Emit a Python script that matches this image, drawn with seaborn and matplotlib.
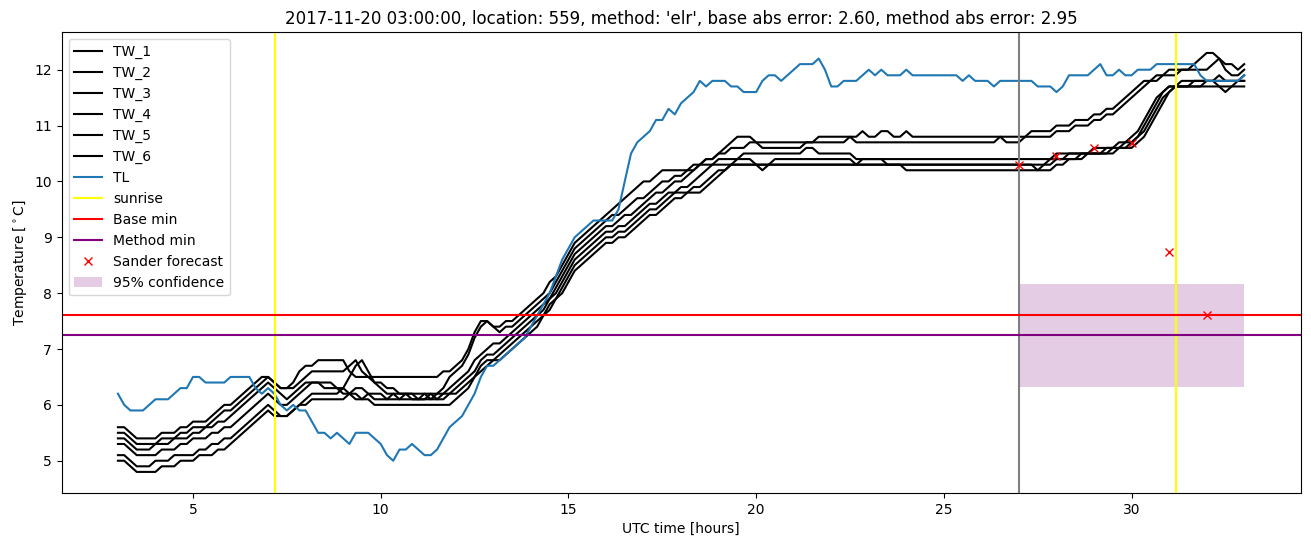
import numpy as np
import pandas as pd
import matplotlib
matplotlib.use("Agg")
import matplotlib.pyplot as plt
import seaborn as sns

# sampling grid: 10-minute steps from 03:00 to 33:00 (UTC hours)
hours = np.linspace(3, 33, 181)

tw_1 = [5.6, 5.6, 5.5, 5.4, 5.4, 5.4,
        5.4, 5.5, 5.5, 5.5, 5.6, 5.6,
        5.7, 5.7, 5.7, 5.8, 5.9, 6.0,
        6.0, 6.1, 6.2, 6.3, 6.4, 6.5,
        6.5, 6.4, 6.3, 6.3, 6.4, 6.6,
        6.7, 6.7, 6.8, 6.8, 6.8, 6.8,
        6.8, 6.6, 6.5, 6.5, 6.5, 6.5,
        6.5, 6.5, 6.5, 6.5, 6.5, 6.5,
        6.5, 6.5, 6.5, 6.5, 6.6, 6.6,
        6.7, 6.8, 7.0, 7.3, 7.5, 7.5,
        7.4, 7.4, 7.5, 7.5, 7.6, 7.7,
        7.8, 7.9, 8.0, 8.2, 8.3, 8.5,
        8.7, 8.9, 9.0, 9.1, 9.2, 9.3,
        9.4, 9.5, 9.6, 9.7, 9.8, 9.9,
        10.0, 10.0, 10.1, 10.2, 10.2, 10.2,
        10.2, 10.2, 10.3, 10.3, 10.4, 10.4,
        10.5, 10.6, 10.7, 10.8, 10.8, 10.8,
        10.7, 10.6, 10.6, 10.6, 10.6, 10.6,
        10.6, 10.6, 10.7, 10.7, 10.8, 10.8,
        10.8, 10.8, 10.8, 10.8, 10.8, 10.9,
        10.8, 10.8, 10.9, 10.9, 10.8, 10.8,
        10.9, 10.8, 10.8, 10.8, 10.8, 10.8,
        10.8, 10.8, 10.8, 10.8, 10.8, 10.8,
        10.8, 10.8, 10.8, 10.8, 10.8, 10.8,
        10.8, 10.8, 10.9, 10.9, 10.9, 10.9,
        11.0, 11.0, 11.0, 11.1, 11.1, 11.1,
        11.2, 11.2, 11.3, 11.3, 11.4, 11.5,
        11.6, 11.7, 11.8, 11.8, 11.9, 11.9,
        12.0, 12.0, 12.0, 12.0, 12.1, 12.2,
        12.3, 12.3, 12.2, 12.1, 12.1, 12.0,
        12.1]

tw_2 = [5.5, 5.5, 5.4, 5.3, 5.3, 5.3,
        5.3, 5.4, 5.4, 5.4, 5.5, 5.5,
        5.6, 5.6, 5.6, 5.7, 5.8, 5.9,
        5.9, 6.0, 6.1, 6.2, 6.3, 6.4,
        6.5, 6.4, 6.3, 6.3, 6.3, 6.4,
        6.5, 6.6, 6.6, 6.6, 6.6, 6.6,
        6.6, 6.7, 6.8, 6.6, 6.5, 6.4,
        6.4, 6.3, 6.3, 6.2, 6.2, 6.2,
        6.2, 6.2, 6.2, 6.2, 6.3, 6.5,
        6.6, 6.7, 6.9, 7.2, 7.4, 7.5,
        7.4, 7.3, 7.4, 7.4, 7.5, 7.6,
        7.7, 7.8, 7.9, 8.0, 8.2, 8.4,
        8.6, 8.8, 8.9, 9.0, 9.1, 9.2,
        9.3, 9.4, 9.4, 9.5, 9.6, 9.7,
        9.7, 9.8, 9.9, 10.0, 10.0, 10.1,
        10.1, 10.2, 10.2, 10.3, 10.4, 10.4,
        10.5, 10.5, 10.6, 10.6, 10.6, 10.7,
        10.7, 10.7, 10.7, 10.7, 10.7, 10.7,
        10.7, 10.7, 10.7, 10.7, 10.7, 10.7,
        10.7, 10.7, 10.7, 10.8, 10.7, 10.7,
        10.7, 10.7, 10.7, 10.7, 10.7, 10.7,
        10.7, 10.7, 10.7, 10.7, 10.7, 10.7,
        10.7, 10.7, 10.7, 10.7, 10.7, 10.7,
        10.7, 10.7, 10.7, 10.8, 10.7, 10.7,
        10.7, 10.8, 10.8, 10.8, 10.8, 10.8,
        10.9, 10.9, 10.9, 11.0, 11.0, 11.0,
        11.1, 11.1, 11.2, 11.2, 11.3, 11.4,
        11.5, 11.6, 11.7, 11.8, 11.8, 11.9,
        11.9, 11.9, 12.0, 12.0, 12.0, 12.0,
        12.0, 12.1, 12.2, 12.0, 11.9, 11.9,
        12.0]

tw_3 = [5.4, 5.4, 5.3, 5.2, 5.2, 5.2,
        5.3, 5.3, 5.3, 5.4, 5.4, 5.4,
        5.5, 5.5, 5.6, 5.6, 5.7, 5.7,
        5.8, 5.9, 6.0, 6.1, 6.2, 6.3,
        6.4, 6.3, 6.2, 6.1, 6.2, 6.3,
        6.4, 6.4, 6.4, 6.4, 6.4, 6.3,
        6.3, 6.5, 6.7, 6.8, 6.6, 6.4,
        6.3, 6.2, 6.2, 6.2, 6.2, 6.2,
        6.1, 6.2, 6.1, 6.2, 6.2, 6.3,
        6.4, 6.5, 6.6, 6.8, 6.9, 7.0,
        7.1, 7.1, 7.2, 7.3, 7.4, 7.5,
        7.6, 7.7, 7.8, 7.9, 8.1, 8.3,
        8.5, 8.7, 8.8, 8.9, 9.0, 9.1,
        9.2, 9.2, 9.3, 9.4, 9.4, 9.5,
        9.6, 9.7, 9.8, 9.8, 9.9, 10.0,
        10.0, 10.1, 10.2, 10.3, 10.3, 10.3,
        10.4, 10.4, 10.4, 10.4, 10.5, 10.5,
        10.5, 10.5, 10.5, 10.5, 10.5, 10.5,
        10.5, 10.5, 10.6, 10.6, 10.5, 10.5,
        10.5, 10.5, 10.5, 10.5, 10.4, 10.4,
        10.4, 10.4, 10.4, 10.4, 10.4, 10.4,
        10.4, 10.4, 10.4, 10.4, 10.4, 10.4,
        10.4, 10.4, 10.4, 10.4, 10.4, 10.4,
        10.4, 10.4, 10.4, 10.4, 10.4, 10.4,
        10.4, 10.4, 10.4, 10.4, 10.4, 10.4,
        10.5, 10.5, 10.5, 10.5, 10.5, 10.5,
        10.6, 10.6, 10.6, 10.6, 10.7, 10.7,
        10.8, 10.9, 11.1, 11.3, 11.5, 11.6,
        11.7, 11.7, 11.8, 11.8, 11.8, 11.8,
        11.8, 11.8, 11.9, 11.8, 11.8, 11.8,
        11.9]

tw_4 = [5.3, 5.3, 5.2, 5.1, 5.1, 5.1,
        5.1, 5.2, 5.2, 5.2, 5.3, 5.3,
        5.4, 5.4, 5.4, 5.5, 5.5, 5.6,
        5.6, 5.7, 5.8, 5.9, 6.0, 6.1,
        6.2, 6.1, 6.0, 6.0, 6.1, 6.2,
        6.3, 6.4, 6.4, 6.3, 6.3, 6.3,
        6.2, 6.2, 6.3, 6.3, 6.2, 6.2,
        6.2, 6.1, 6.2, 6.1, 6.2, 6.1,
        6.1, 6.1, 6.2, 6.1, 6.2, 6.2,
        6.3, 6.4, 6.5, 6.6, 6.8, 6.9,
        6.9, 7.0, 7.1, 7.2, 7.3, 7.4,
        7.5, 7.6, 7.7, 7.9, 8.0, 8.2,
        8.4, 8.6, 8.7, 8.8, 8.9, 9.0,
        9.1, 9.1, 9.2, 9.2, 9.3, 9.4,
        9.5, 9.6, 9.6, 9.7, 9.8, 9.8,
        9.9, 9.9, 10.0, 10.1, 10.2, 10.3,
        10.3, 10.3, 10.3, 10.4, 10.4, 10.4,
        10.3, 10.3, 10.3, 10.4, 10.4, 10.4,
        10.4, 10.4, 10.4, 10.4, 10.4, 10.4,
        10.4, 10.4, 10.4, 10.4, 10.3, 10.4,
        10.4, 10.4, 10.4, 10.3, 10.3, 10.3,
        10.3, 10.3, 10.3, 10.3, 10.3, 10.3,
        10.3, 10.3, 10.3, 10.3, 10.3, 10.3,
        10.3, 10.3, 10.3, 10.3, 10.3, 10.3,
        10.3, 10.3, 10.3, 10.3, 10.3, 10.4,
        10.4, 10.4, 10.5, 10.5, 10.5, 10.5,
        10.5, 10.5, 10.6, 10.6, 10.6, 10.7,
        10.7, 10.8, 11.0, 11.2, 11.4, 11.6,
        11.7, 11.7, 11.7, 11.7, 11.7, 11.7,
        11.8, 11.8, 11.7, 11.6, 11.7, 11.8,
        11.8]

tw_5 = [5.1, 5.1, 5.0, 4.9, 4.9, 4.9,
        5.0, 5.0, 5.0, 5.1, 5.1, 5.1,
        5.1, 5.2, 5.2, 5.3, 5.3, 5.4,
        5.4, 5.5, 5.6, 5.7, 5.8, 5.9,
        6.0, 5.9, 5.8, 5.8, 5.9, 6.0,
        6.1, 6.2, 6.2, 6.2, 6.2, 6.2,
        6.3, 6.2, 6.2, 6.1, 6.2, 6.1,
        6.1, 6.1, 6.1, 6.1, 6.1, 6.1,
        6.1, 6.1, 6.1, 6.1, 6.1, 6.2,
        6.2, 6.3, 6.4, 6.5, 6.7, 6.8,
        6.8, 6.9, 7.0, 7.1, 7.2, 7.3,
        7.4, 7.5, 7.6, 7.8, 7.9, 8.1,
        8.3, 8.5, 8.6, 8.7, 8.8, 8.9,
        9.0, 9.0, 9.1, 9.1, 9.2, 9.3,
        9.4, 9.5, 9.5, 9.6, 9.7, 9.8,
        9.8, 9.8, 9.9, 9.9, 10.0, 10.1,
        10.2, 10.2, 10.3, 10.3, 10.3, 10.3,
        10.3, 10.2, 10.3, 10.3, 10.3, 10.3,
        10.3, 10.3, 10.3, 10.3, 10.3, 10.3,
        10.3, 10.3, 10.3, 10.3, 10.3, 10.3,
        10.3, 10.3, 10.3, 10.3, 10.3, 10.3,
        10.2, 10.2, 10.2, 10.2, 10.2, 10.2,
        10.2, 10.2, 10.2, 10.2, 10.2, 10.2,
        10.2, 10.2, 10.2, 10.2, 10.2, 10.2,
        10.2, 10.2, 10.2, 10.2, 10.3, 10.3,
        10.4, 10.4, 10.4, 10.4, 10.5, 10.5,
        10.5, 10.5, 10.5, 10.6, 10.6, 10.6,
        10.7, 10.8, 10.9, 11.1, 11.3, 11.5,
        11.6, 11.7, 11.7, 11.7, 11.7, 11.7,
        11.7, 11.7, 11.7, 11.7, 11.7, 11.7,
        11.7]

tw_6 = [5.0, 5.0, 4.9, 4.8, 4.8, 4.8,
        4.8, 4.9, 4.9, 4.9, 5.0, 5.0,
        5.0, 5.1, 5.1, 5.1, 5.2, 5.2,
        5.3, 5.4, 5.5, 5.6, 5.7, 5.8,
        5.9, 5.8, 5.8, 5.8, 5.9, 6.0,
        6.0, 6.1, 6.1, 6.1, 6.1, 6.1,
        6.1, 6.2, 6.1, 6.1, 6.1, 6.0,
        6.0, 6.0, 6.0, 6.0, 6.0, 6.0,
        6.0, 6.0, 6.0, 6.0, 6.0, 6.0,
        6.1, 6.2, 6.3, 6.5, 6.6, 6.7,
        6.8, 6.8, 6.9, 7.0, 7.1, 7.2,
        7.3, 7.4, 7.6, 7.7, 7.9, 8.0,
        8.2, 8.4, 8.5, 8.6, 8.7, 8.8,
        8.9, 8.9, 9.0, 9.0, 9.1, 9.2,
        9.3, 9.4, 9.4, 9.5, 9.6, 9.7,
        9.7, 9.8, 9.8, 9.8, 9.9, 10.0,
        10.1, 10.2, 10.3, 10.3, 10.3, 10.3,
        10.3, 10.3, 10.3, 10.3, 10.3, 10.3,
        10.3, 10.3, 10.3, 10.3, 10.3, 10.3,
        10.3, 10.3, 10.3, 10.3, 10.3, 10.3,
        10.3, 10.3, 10.3, 10.3, 10.3, 10.3,
        10.3, 10.3, 10.3, 10.3, 10.3, 10.3,
        10.3, 10.3, 10.3, 10.3, 10.3, 10.3,
        10.3, 10.3, 10.3, 10.3, 10.3, 10.3,
        10.3, 10.3, 10.3, 10.2, 10.2, 10.2,
        10.3, 10.3, 10.4, 10.4, 10.4, 10.5,
        10.5, 10.5, 10.5, 10.5, 10.6, 10.6,
        10.6, 10.7, 10.8, 11.0, 11.2, 11.4,
        11.6, 11.7, 11.7, 11.7, 11.8, 11.8,
        11.8, 11.8, 11.8, 11.8, 11.8, 11.8,
        11.8]

tl = [6.2, 6.0, 5.9, 5.9, 5.9, 6.0,
      6.1, 6.1, 6.1, 6.2, 6.3, 6.3,
      6.5, 6.5, 6.4, 6.4, 6.4, 6.4,
      6.5, 6.5, 6.5, 6.5, 6.3, 6.2,
      6.3, 6.2, 6.0, 5.9, 6.0, 5.9,
      5.9, 5.7, 5.5, 5.5, 5.4, 5.5,
      5.4, 5.3, 5.5, 5.5, 5.5, 5.4,
      5.3, 5.1, 5.0, 5.2, 5.2, 5.3,
      5.2, 5.1, 5.1, 5.2, 5.4, 5.6,
      5.7, 5.8, 6.0, 6.2, 6.5, 6.7,
      6.7, 6.8, 6.9, 7.0, 7.1, 7.2,
      7.4, 7.6, 7.8, 8.0, 8.3, 8.6,
      8.8, 9.0, 9.1, 9.2, 9.3, 9.3,
      9.3, 9.3, 9.5, 10.0, 10.5, 10.7,
      10.8, 10.9, 11.1, 11.1, 11.3, 11.2,
      11.4, 11.5, 11.6, 11.8, 11.7, 11.8,
      11.8, 11.8, 11.7, 11.7, 11.6, 11.6,
      11.6, 11.8, 11.9, 11.9, 11.8, 11.9,
      12.0, 12.1, 12.1, 12.1, 12.2, 12.0,
      11.7, 11.7, 11.8, 11.8, 11.8, 11.9,
      12.0, 11.9, 12.0, 11.9, 11.9, 11.9,
      12.0, 11.9, 11.9, 11.9, 11.9, 11.9,
      11.9, 11.9, 11.9, 11.8, 11.9, 11.8,
      11.8, 11.8, 11.7, 11.8, 11.8, 11.8,
      11.8, 11.8, 11.8, 11.7, 11.7, 11.7,
      11.6, 11.7, 11.9, 11.9, 11.9, 11.9,
      12.0, 12.1, 11.9, 11.9, 12.0, 11.9,
      11.9, 12.0, 12.0, 12.0, 12.1, 12.1,
      12.1, 12.1, 12.1, 12.1, 12.1, 11.9,
      11.8, 11.8, 11.8, 11.8, 11.8, 11.8,
      11.9]

tw_names = ["TW_1", "TW_2", "TW_3", "TW_4", "TW_5", "TW_6"]
sunrise_hours = [7.18, 31.18]
now_hour = 27.0
base_min = 7.60
method_min = 7.25
forecast_hours = [27, 28, 29, 30, 31, 32]
forecast_values = [10.30, 10.46, 10.60, 10.69, 8.73, 7.60]
conf_hours = [27, 33]
conf_low = 6.32
conf_high = 8.17

title = ("2017-11-20 03:00:00, location: 559, method: 'elr', "
         "base abs error: 2.60, method abs error: 2.95")

df = pd.DataFrame({"hours": hours, "TW_1": tw_1, "TW_2": tw_2, "TW_3": tw_3,
                   "TW_4": tw_4, "TW_5": tw_5, "TW_6": tw_6, "TL": tl})

fig, ax = plt.subplots(figsize=(13.11, 5.47), dpi=100)
fig.subplots_adjust(left=0.047, right=0.992, bottom=0.099, top=0.9415)

for name in tw_names:
    sns.lineplot(data=df, x="hours", y=name, color="black", label=name,
                 errorbar=None, legend=False, ax=ax)
sns.lineplot(data=df, x="hours", y="TL", color="#1f77b4", label="TL",
             errorbar=None, legend=False, ax=ax)

ax.axvline(now_hour, color="gray")
ax.axvline(sunrise_hours[0], color="yellow", label="sunrise")
ax.axvline(sunrise_hours[1], color="yellow")
ax.axhline(base_min, color="red", label="Base min")
ax.axhline(method_min, color="purple", label="Method min")
ax.plot(forecast_hours, forecast_values, "x", color="red", linestyle="none",
        label="Sander forecast")
ax.fill_between(conf_hours, conf_low, conf_high, color="purple", alpha=0.2,
                linewidth=0, label="95% confidence")

ax.set_title(title)
ax.set_xlabel("UTC time [hours]")
ax.set_ylabel("Temperature [$^\\circ$C]")
ax.legend(loc="upper left")

fig.savefig("out.png", dpi=100)
